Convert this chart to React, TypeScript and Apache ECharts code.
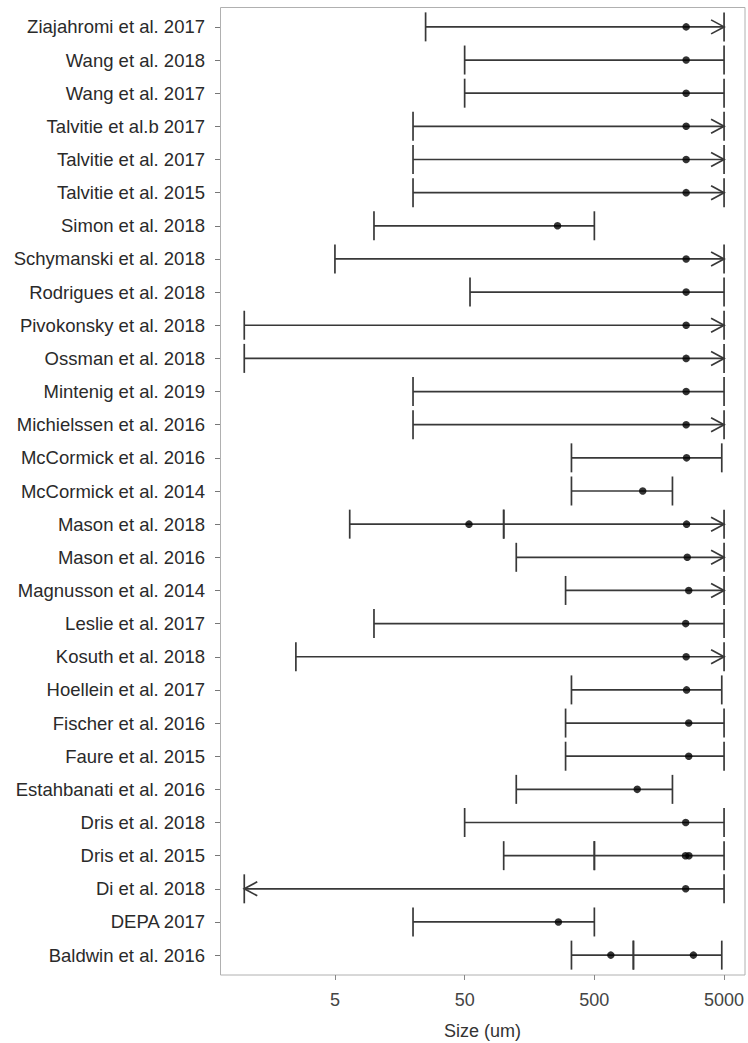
import { useEffect, useRef } from "react";
import * as echarts from "echarts";

// Studies, top to bottom
const studies = [
  "Ziajahromi et al. 2017",
  "Wang et al. 2018",
  "Wang et al. 2017",
  "Talvitie et al.b 2017",
  "Talvitie et al. 2017",
  "Talvitie et al. 2015",
  "Simon et al. 2018",
  "Schymanski et al. 2018",
  "Rodrigues et al. 2018",
  "Pivokonsky et al. 2018",
  "Ossman et al. 2018",
  "Mintenig et al. 2019",
  "Michielssen et al. 2016",
  "McCormick et al. 2016",
  "McCormick et al. 2014",
  "Mason et al. 2018",
  "Mason et al. 2016",
  "Magnusson et al. 2014",
  "Leslie et al. 2017",
  "Kosuth et al. 2018",
  "Hoellein et al. 2017",
  "Fischer et al. 2016",
  "Faure et al. 2015",
  "Estahbanati et al. 2016",
  "Dris et al. 2018",
  "Dris et al. 2015",
  "Di et al. 2018",
  "DEPA 2017",
  "Baldwin et al. 2016",
];

// Size ranges [study, lower, upper] in um
const ranges: [string, number, number][] = [
  ["Ziajahromi et al. 2017", 25, 5000],
  ["Wang et al. 2018", 50, 5000],
  ["Wang et al. 2017", 50, 5000],
  ["Talvitie et al.b 2017", 20, 5000],
  ["Talvitie et al. 2017", 20, 5000],
  ["Talvitie et al. 2015", 20, 5000],
  ["Simon et al. 2018", 10, 500],
  ["Schymanski et al. 2018", 5, 5000],
  ["Rodrigues et al. 2018", 55, 5000],
  ["Pivokonsky et al. 2018", 1, 5000],
  ["Ossman et al. 2018", 1, 5000],
  ["Mintenig et al. 2019", 20, 5000],
  ["Michielssen et al. 2016", 20, 5000],
  ["McCormick et al. 2016", 333, 4800],
  ["McCormick et al. 2014", 333, 2000],
  ["Mason et al. 2018", 6.5, 100],
  ["Mason et al. 2018", 100, 5000],
  ["Mason et al. 2016", 125, 5000],
  ["Magnusson et al. 2014", 300, 5000],
  ["Leslie et al. 2017", 10, 5000],
  ["Kosuth et al. 2018", 2.5, 5000],
  ["Hoellein et al. 2017", 333, 4800],
  ["Fischer et al. 2016", 300, 5000],
  ["Faure et al. 2015", 300, 5000],
  ["Estahbanati et al. 2016", 125, 2000],
  ["Dris et al. 2018", 50, 5000],
  ["Dris et al. 2015", 100, 500],
  ["Dris et al. 2015", 500, 5000],
  ["Di et al. 2018", 1, 5000],
  ["DEPA 2017", 20, 500],
  ["Baldwin et al. 2016", 333, 1000],
  ["Baldwin et al. 2016", 1000, 4800],
];

// Central sizes [study, value] in um
const medians: [string, number][] = [
  ["Ziajahromi et al. 2017", 2550],
  ["Wang et al. 2018", 2550],
  ["Wang et al. 2017", 2550],
  ["Talvitie et al.b 2017", 2550],
  ["Talvitie et al. 2017", 2550],
  ["Talvitie et al. 2015", 2550],
  ["Simon et al. 2018", 260],
  ["Schymanski et al. 2018", 2550],
  ["Rodrigues et al. 2018", 2550],
  ["Pivokonsky et al. 2018", 2550],
  ["Ossman et al. 2018", 2550],
  ["Mintenig et al. 2019", 2550],
  ["Michielssen et al. 2016", 2550],
  ["McCormick et al. 2016", 2570],
  ["McCormick et al. 2014", 1180],
  ["Mason et al. 2018", 54],
  ["Mason et al. 2018", 2570],
  ["Mason et al. 2016", 2600],
  ["Magnusson et al. 2014", 2670],
  ["Leslie et al. 2017", 2530],
  ["Kosuth et al. 2018", 2550],
  ["Hoellein et al. 2017", 2570],
  ["Fischer et al. 2016", 2670],
  ["Faure et al. 2015", 2670],
  ["Estahbanati et al. 2016", 1070],
  ["Dris et al. 2018", 2530],
  ["Dris et al. 2015", 2520],
  ["Dris et al. 2015", 2680],
  ["Di et al. 2018", 2530],
  ["DEPA 2017", 264],
  ["Baldwin et al. 2016", 670],
  ["Baldwin et al. 2016", 2900],
];

// Ranges that extend beyond the plotted limits
const openAbove = [
  "Ziajahromi et al. 2017",
  "Talvitie et al.b 2017",
  "Talvitie et al. 2017",
  "Talvitie et al. 2015",
  "Schymanski et al. 2018",
  "Pivokonsky et al. 2018",
  "Ossman et al. 2018",
  "Michielssen et al. 2016",
  "Mason et al. 2018",
  "Mason et al. 2016",
  "Magnusson et al. 2014",
  "Kosuth et al. 2018",
];
const openBelow = ["Di et al. 2018"];
const upperLimit = 5000;
const lowerLimit = 1;

const xTicks = [5, 50, 500, 5000];

const FONT = "'Liberation Sans', Arial, Helvetica, sans-serif";
const LINE = "#383838";

export default function App() {
  const ref = useRef<HTMLDivElement>(null);

  useEffect(() => {
    if (!ref.current) return;
    const chart = echarts.init(ref.current, undefined, { renderer: "svg" });
    const row = (s: string) => studies.indexOf(s);
    const capH = 14.5;

    const option: any = {
      animation: false,
      backgroundColor: "#ffffff",
      grid: {
        left: 220,
        right: 3,
        top: 10.3,
        bottom: 71.3,
        containLabel: false,
        outerBoundsMode: "none",
      },
      graphic: [
        {
          type: "rect",
          shape: { x: 220.5, y: 7.5, width: 524.5, height: 967.5 },
          style: { fill: null, stroke: "#b0b0b0", lineWidth: 1 },
          silent: true,
          z: 0,
        },
      ],
      xAxis: {
        type: "log",
        logBase: 10,
        min: 0.65,
        max: 7250,
        offset: 3.3,
        axisLine: { show: false },
        axisTick: { show: true, customValues: xTicks, length: 5, lineStyle: { color: "#888", width: 1 } },
        axisLabel: {
          customValues: xTicks,
          formatter: (v: number) => String(Math.round(v)),
          fontSize: 18,
          color: "#444",
          margin: 16,
          fontFamily: FONT,
        },
        splitLine: { show: false },
        minorTick: { show: false },
        name: "Size (um)",
        nameLocation: "middle",
        nameGap: 47,
        nameTextStyle: { fontSize: 18, color: "#333", fontFamily: FONT },
      },
      yAxis: {
        type: "category",
        inverse: true,
        data: studies,
        axisLine: { show: false },
        axisTick: { show: true, alignWithLabel: true, length: 5, lineStyle: { color: "#777" } },
        axisLabel: { fontSize: 18.5, color: "#2a2a2a", margin: 15, fontFamily: FONT },
        splitLine: { show: false },
      },
      series: [
        {
          type: "custom",
          name: "ranges",
          dimensions: ["lo", "hi", "row"],
          encode: { x: [0, 1], y: 2 },
          data: ranges.map(([s, lo, hi]) => [lo, hi, row(s)]),
          renderItem: (_p: any, api: any) => {
            const a = api.coord([api.value(0), api.value(2)]);
            const b = api.coord([api.value(1), api.value(2)]);
            const style = { stroke: LINE, lineWidth: 1.7, fill: null };
            return {
              type: "group",
              children: [
                { type: "line", shape: { x1: a[0], y1: a[1], x2: b[0], y2: b[1] }, style },
                { type: "line", shape: { x1: a[0], y1: a[1] - capH, x2: a[0], y2: a[1] + capH }, style },
                { type: "line", shape: { x1: b[0], y1: b[1] - capH, x2: b[0], y2: b[1] + capH }, style },
              ],
            };
          },
          z: 2,
        },
        {
          type: "custom",
          name: "open",
          dimensions: ["x", "row", "dir"],
          encode: { x: 0, y: 1 },
          data: [
            ...openAbove.map((s) => [upperLimit, row(s), 1]),
            ...openBelow.map((s) => [lowerLimit, row(s), -1]),
          ],
          renderItem: (_p: any, api: any) => {
            const p = api.coord([api.value(0), api.value(1)]);
            const d = api.value(2);
            return {
              type: "polyline",
              shape: {
                points: [
                  [p[0] - d * 13, p[1] - 7],
                  [p[0], p[1]],
                  [p[0] - d * 13, p[1] + 7],
                ],
              },
              style: { stroke: LINE, lineWidth: 1.7, fill: null },
            };
          },
          z: 2,
        },
        {
          type: "scatter",
          name: "median",
          data: medians.map(([s, v]) => [v, row(s)]),
          symbol: "circle",
          symbolSize: 7.5,
          itemStyle: { color: "#000" },
          z: 3,
        },
      ],
    };

    chart.setOption(option);
    return () => chart.dispose();
  }, []);

  return (
    <div
      ref={ref}
      style={{ position: "fixed", left: 0, top: 0, width: 748, height: 1043, background: "#fff" }}
    />
  );
}
